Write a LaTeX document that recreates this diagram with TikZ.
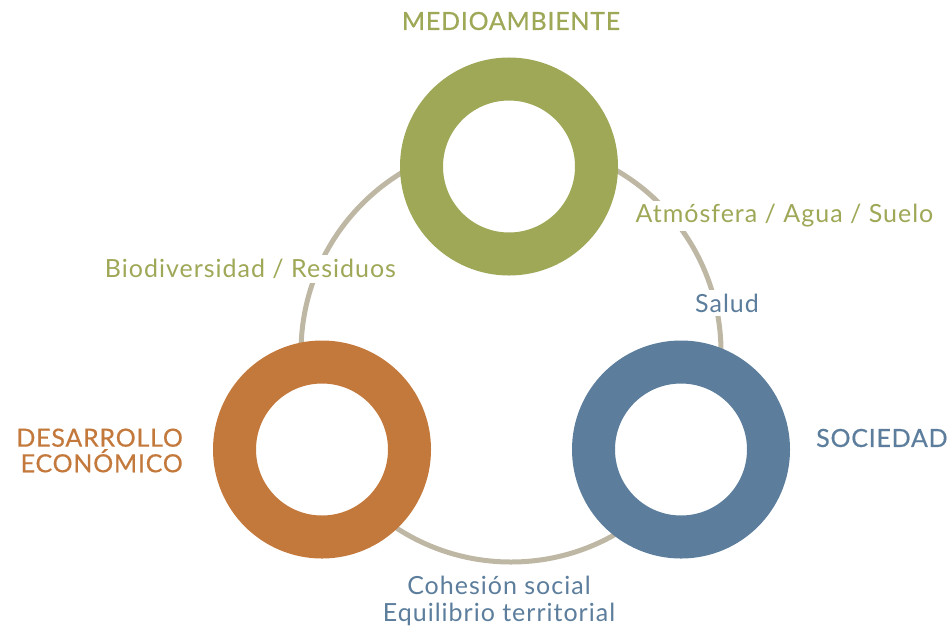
\documentclass[tikz,border=0pt]{standalone}
\usepackage{fontspec}
\setmainfont{Lato}
\newfontfamily\headfont[FakeBold=0.5,LetterSpace=3]{Lato}
\newfontfamily\lblfont[LetterSpace=4]{Lato}
\definecolor{envgreen}{RGB}{159,168,87}
\definecolor{ecoorange}{RGB}{196,121,60}
\definecolor{socblue}{RGB}{92,126,156}
\definecolor{loopgray}{RGB}{190,183,164}
\begin{document}
\begin{tikzpicture}[x=1pt,y=-1pt,
  ring/.style={circle, inner sep=0pt, minimum size=175pt, line width=43pt, fill=white},
  head/.style={font=\headfont\fontsize{25}{25.6}\selectfont, inner sep=0pt},
  lbl/.style={font=\lblfont\fontsize{25}{27}\selectfont, fill=white, inner sep=4pt, align=center}]
\useasboundingbox (0,0) rectangle (949,630);
\coordinate (loop) at (511,352);
\draw[loopgray, line width=5pt] (loop) circle (210);
\node[ring, draw=envgreen] (env) at (509,166.5) {};
\node[ring, draw=ecoorange] (eco) at (322,449.5) {};
\node[ring, draw=socblue] (soc) at (681,449.5) {};
\node[head, text=envgreen] (tenv) at (511,21) {MEDIOAMBIENTE};
\node[head, text=ecoorange, align=right, anchor=east] (teco) at (183,450.5) {DESARROLLO\\ECONÓMICO};
\node[head, text=socblue, anchor=west] (tsoc) at (816,438) {SOCIEDAD};
\node[lbl, text=envgreen] (atm) at (784.5,216) {Atmósfera / Agua / Suelo};
\node[lbl, text=socblue] (sal) at (727,303) {Salud};
\node[lbl, text=envgreen] (bio) at (250.5,269) {Biodiversidad / Residuos};
\node[lbl, text=socblue] (coh) at (499,601) {Cohesión social\\Equilibrio territorial};
\end{tikzpicture}
\end{document}
